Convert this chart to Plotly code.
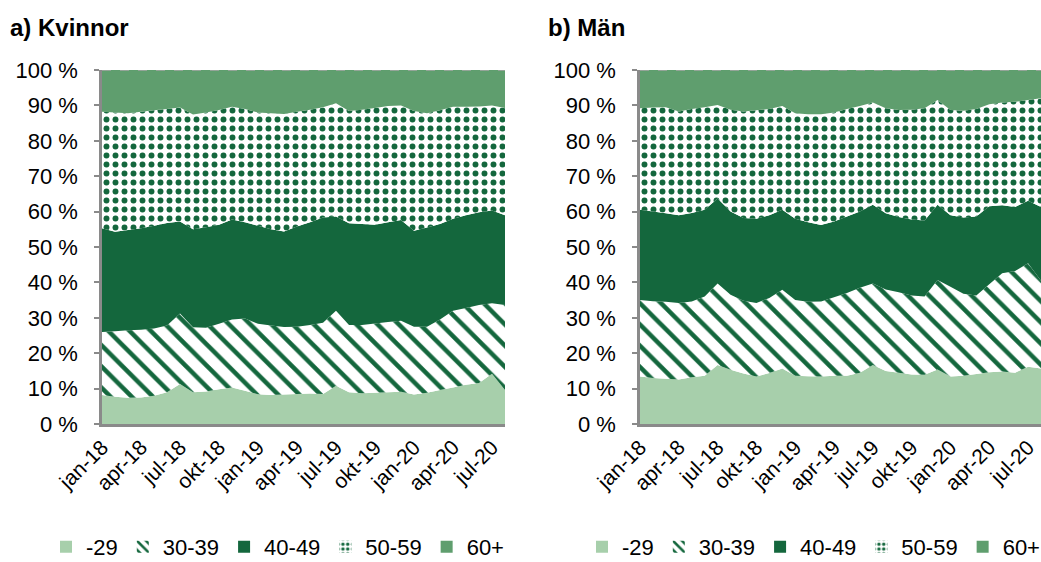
import plotly.graph_objects as go
from plotly.subplots import make_subplots

# Monthly categories, Jan 2018 - Aug 2020 (Swedish abbreviations)
months = [
    "jan-18", "feb-18", "mar-18", "apr-18", "maj-18", "jun-18", "jul-18", "aug-18",
    "sep-18", "okt-18", "nov-18", "dec-18", "jan-19", "feb-19", "mar-19", "apr-19",
    "maj-19", "jun-19", "jul-19", "aug-19", "sep-19", "okt-19", "nov-19", "dec-19",
    "jan-20", "feb-20", "mar-20", "apr-20", "maj-20", "jun-20", "jul-20", "aug-20",
]
tick_months = months[::3]

age_groups = ["-29", "30-39", "40-49", "50-59", "60+"]

# a) Kvinnor - share (%) per age group
women_u29 = [8.2, 7.7, 7.4, 7.5, 8.0, 9.0, 11.3, 9.0, 9.2, 9.8, 10.3, 9.4, 8.4, 8.2, 8.3, 8.5,
             8.6, 8.5, 10.8, 9.0, 8.7, 8.8, 9.0, 9.1, 8.3, 8.8, 9.6, 10.3, 11.1, 11.6, 14.2, 9.6]
women_30_39 = [17.8, 18.5, 19.1, 19.1, 19.0, 18.8, 19.9, 18.3, 18.0, 18.5, 19.2, 20.4, 19.9, 19.6, 19.1, 19.0,
               19.4, 20.1, 21.2, 19.0, 19.3, 19.6, 19.8, 20.1, 19.2, 18.7, 19.9, 21.7, 21.7, 22.0, 19.9, 24.0]
women_40_49 = [29.3, 28.1, 28.3, 28.7, 29.0, 29.0, 26.0, 27.7, 28.4, 28.0, 28.3, 27.2, 27.7, 27.2, 27.0, 28.3,
               29.0, 29.7, 26.6, 28.7, 28.5, 27.9, 28.2, 28.4, 27.1, 28.0, 27.0, 26.0, 26.2, 26.2, 26.2, 25.4]
women_50_59 = [32.9, 33.7, 33.0, 32.9, 32.6, 32.2, 32.2, 32.4, 32.4, 32.4, 31.8, 32.0, 32.0, 32.8, 33.2, 32.4,
               31.8, 31.2, 32.0, 31.7, 32.3, 33.0, 32.8, 32.4, 33.8, 32.3, 32.1, 31.6, 30.6, 29.9, 29.7, 30.3]
women_60p = [11.8, 12.0, 12.2, 11.8, 11.4, 11.0, 10.6, 12.6, 12.0, 11.3, 10.4, 11.0, 12.0, 12.2, 12.4, 11.8,
             11.2, 10.5, 9.4, 11.6, 11.2, 10.7, 10.2, 10.0, 11.6, 12.2, 11.4, 10.4, 10.4, 10.3, 10.0, 10.7]

# b) Män - share (%) per age group
men_u29 = [13.4, 13.0, 12.8, 12.6, 13.2, 13.6, 16.7, 15.3, 14.3, 13.4, 14.4, 15.7, 13.6, 13.5, 13.4, 13.6,
           13.6, 14.5, 16.7, 15.0, 14.5, 14.0, 13.9, 15.4, 13.4, 13.6, 14.1, 14.6, 14.8, 14.5, 16.2, 15.7]
men_30_39 = [21.6, 21.7, 21.7, 21.6, 21.4, 22.4, 23.0, 21.2, 20.5, 20.8, 21.2, 22.2, 21.4, 21.0, 21.2, 22.2,
             23.4, 24.0, 23.0, 23.0, 22.7, 22.3, 22.1, 25.3, 25.4, 23.2, 22.2, 24.9, 27.8, 28.7, 29.2, 24.8]
men_40_49 = [25.5, 25.3, 25.0, 24.8, 25.0, 24.5, 24.0, 23.5, 23.4, 23.8, 23.4, 22.6, 23.0, 22.5, 21.6, 21.4,
             21.6, 21.5, 22.2, 21.5, 21.3, 21.5, 21.5, 21.2, 20.2, 21.5, 22.3, 22.0, 19.2, 18.1, 17.7, 20.8]
men_50_59 = [28.7, 29.4, 30.0, 29.3, 29.4, 29.0, 26.4, 28.8, 30.1, 30.6, 30.0, 29.3, 29.8, 30.5, 31.3, 30.8,
             30.4, 29.8, 28.9, 29.7, 30.2, 31.0, 31.7, 29.6, 29.7, 30.2, 30.4, 28.8, 29.0, 29.7, 28.4, 30.7]
men_60p = [10.8, 10.6, 10.5, 11.7, 11.0, 10.5, 9.9, 11.2, 11.7, 11.4, 11.0, 10.2, 12.2, 12.5, 12.5, 12.0,
           11.0, 10.2, 9.2, 10.8, 11.3, 11.2, 10.8, 8.5, 11.3, 11.5, 11.0, 9.7, 9.2, 9.0, 8.5, 8.0]

women = [women_u29, women_30_39, women_40_49, women_50_59, women_60p]
men = [men_u29, men_30_39, men_40_49, men_50_59, men_60p]

LIGHT = "#A7CFAB"
DARK = "#14673D"
MID = "#5F9E6E"
AXIS_GREY = "#8A8A8A"
FONT = "Liberation Sans, Arial, sans-serif"

# fill colour and optional pattern for each age group
fills = [LIGHT, "white", DARK, "white", MID]
patterns = [
    None,
    dict(shape="\\", fgcolor=DARK, bgcolor="white", size=15, solidity=0.3, fillmode="replace"),
    None,
    dict(shape=".", fgcolor=DARK, bgcolor="white", size=9, solidity=0.34, fillmode="replace"),
    None,
]
legend_pattern_size = {"\\": 8, ".": 6}

fig = make_subplots(rows=1, cols=2, horizontal_spacing=0.0)

for col, (data, legend_id) in enumerate([(women, "legend"), (men, "legend2")], start=1):
    for name, vals, fc, pat in zip(age_groups, data, fills, patterns):
        fig.add_trace(go.Scatter(
            x=months, y=vals, name=name, stackgroup=f"g{col}", groupnorm="percent",
            mode="none", fillcolor=fc, fillpattern=pat if pat else None,
            showlegend=False, hoverinfo="skip",
        ), row=1, col=col)
    # legend entries (square swatches)
    for name, fc, pat in zip(age_groups, fills, patterns):
        marker = dict(color=fc if not pat else DARK, line=dict(width=0))
        if pat:
            p = dict(pat)
            p["size"] = legend_pattern_size[pat["shape"]]
            p["solidity"] = 0.4
            marker["pattern"] = p
        fig.add_trace(go.Bar(
            x=[None], y=[None], name=name, marker=marker,
            legend=legend_id, showlegend=True, hoverinfo="skip",
        ), row=1, col=col)

xdomains = [[102 / 1041, 505 / 1041], [640 / 1041, 1.0]]
ydomain = [(562 - 424) / 562, (562 - 70) / 562]

for i, xd in enumerate(xdomains, start=1):
    xa = "xaxis" if i == 1 else f"xaxis{i}"
    ya = "yaxis" if i == 1 else f"yaxis{i}"
    fig.layout[xa].update(
        domain=xd, type="category", range=[0, len(months) - 1], automargin=False,
        tickmode="array", tickvals=tick_months, ticktext=tick_months,
        tickangle=-45, ticks="", showgrid=False, zeroline=False,
        showline=True, linecolor=AXIS_GREY, linewidth=2.5,
        tickfont=dict(family=FONT, size=21, color="black"),
    )
    fig.layout[ya].update(
        domain=ydomain, range=[0, 100], tickmode="linear", tick0=0, dtick=10, automargin=False,
        ticksuffix=" %", ticks="outside", ticklen=5, tickwidth=2, tickcolor=AXIS_GREY,
        ticklabelstandoff=12, showgrid=False, zeroline=False,
        showline=True, linecolor=AXIS_GREY, linewidth=2.5,
        tickfont=dict(family=FONT, size=22, color="black"),
    )
    # dashed upper border at 100 %
    fig.add_shape(type="line", xref=f"x{'' if i == 1 else i} domain", yref=f"y{'' if i == 1 else i}",
                  x0=0, x1=1, y0=100, y1=100,
                  line=dict(color="#A6A6A6", width=1.5, dash="dash"))

legend_style = dict(
    orientation="h", yanchor="middle", y=0.027, xanchor="left",
    font=dict(family=FONT, size=22, color="black"),
    itemwidth=30, traceorder="normal", bgcolor="rgba(0,0,0,0)",
    itemclick=False, itemdoubleclick=False,
)
fig.update_layout(
    legend=dict(legend_style, x=46 / 1041),
    legend2=dict(legend_style, x=582 / 1041),
)

for text, xpos in [("a) Kvinnor", 8), ("b) Män", 546)]:
    fig.add_annotation(text=f"<b>{text}</b>", xref="paper", yref="paper",
                       x=xpos / 1041, y=(562 - 27) / 562, xanchor="left", yanchor="middle",
                       showarrow=False, font=dict(family=FONT, size=24, color="black"))

fig.update_layout(
    width=1041, height=562, margin=dict(l=0, r=0, t=0, b=0, autoexpand=False),
    paper_bgcolor="white", plot_bgcolor="white", barmode="overlay",
    showlegend=True,
)

fig.write_html("out.html")
